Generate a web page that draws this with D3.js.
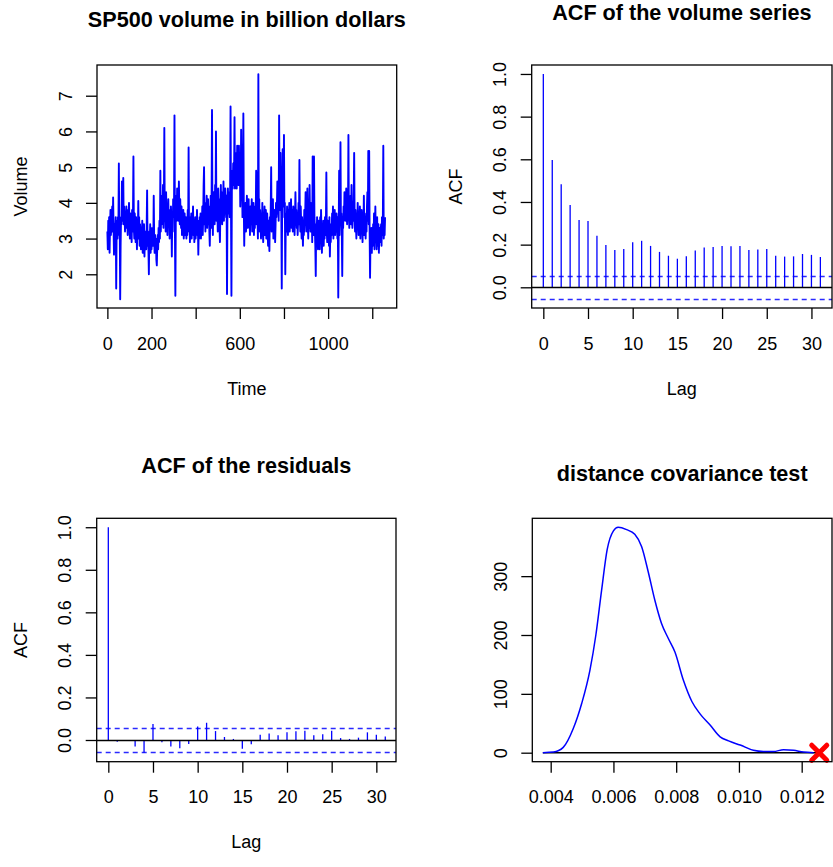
<!DOCTYPE html>
<html>
<head>
<meta charset="utf-8">
<script src="https://cdn.jsdelivr.net/npm/d3@7"></script>
<style>
    body { margin: 0; background: #ffffff; }
    text { font-family: "Liberation Sans", Arial, Helvetica, sans-serif; font-size: 18px; fill: #000000; }
    .title { font-size: 21.6px; font-weight: bold; }
</style>
</head>
<body>
<div id="d3plot"></div>
<script>
// Data
// ==================================================================
// SP500 daily volume (billion dollars), read every 2nd day off the picture
const volume = [
    3.2, 2.7, 3.5, 3.0, 3.6, 2.6, 3.3, 3.8, 3.1, 3.4,
    3.6, 3.9, 3.2, 4.15, 3.3, 2.55, 3.4, 3.1, 3.3, 3.6,
    1.6, 3.2, 3.5, 3.0, 3.6, 3.3, 5.1, 3.1, 3.4, 1.3,
    2.8, 3.6, 3.4, 4.6, 3.5, 3.8, 4.7, 3.4, 3.9, 3.6,
    3.2, 3.7, 3.4, 3.9, 3.3, 3.6, 3.1, 3.8, 3.5, 4.0,
    3.4, 3.0, 3.7, 3.3, 3.5, 2.9, 3.8, 3.2, 3.6, 5.3,
    3.3, 3.0, 3.7, 3.4, 2.9, 3.6, 3.2, 2.7, 3.5, 3.1,
    4.05, 3.0, 3.6, 2.8, 3.4, 3.2, 2.7, 3.3, 2.9, 3.5,
    2.6, 3.1, 2.8, 3.4, 2.5, 3.0, 2.9, 3.2, 2.7, 3.3,
    4.35, 2.8, 3.1, 2.7, 2.0, 3.2, 2.9, 3.4, 2.6, 3.3,
    2.7, 3.0, 2.9, 3.3, 2.8, 4.2, 3.0, 2.6, 3.1, 2.9,
    3.0, 2.4, 2.25, 2.8, 3.1, 2.7, 3.3, 2.9, 3.5, 3.0,
    4.9, 3.2, 3.7, 3.4, 4.2, 3.6, 4.5, 3.3, 3.9, 6.1,
    3.5, 4.0, 3.2, 4.3, 3.6, 3.9, 3.1, 3.7, 4.1, 3.4,
    3.8, 3.0, 3.6, 3.3, 3.9, 3.5, 2.5, 3.7, 3.2, 4.1,
    3.6, 3.9, 6.45, 3.3, 1.4, 3.6, 4.2, 3.5, 4.4, 3.7,
    4.0, 3.5, 4.6, 3.8, 3.4, 4.1, 3.6, 3.3, 3.9, 3.1,
    3.5, 3.2, 3.8, 3.0, 3.4, 3.7, 3.1, 3.3, 3.6, 3.0,
    3.4, 3.1, 3.8, 3.3, 5.55, 3.2, 3.6, 2.9, 3.5, 3.3,
    3.7, 3.0, 3.4, 3.2, 3.9, 3.1, 3.5, 2.9, 3.3, 3.6,
    3.0, 3.4, 3.2, 3.8, 3.1, 3.5, 2.55, 3.3, 3.0, 3.6,
    3.2, 3.7, 3.0, 3.5, 3.3, 3.9, 3.1, 3.6, 4.5, 5.0,
    3.4, 3.8, 3.2, 4.0, 3.5, 4.2, 3.3, 3.7, 4.1, 3.4,
    3.9, 3.2, 2.8, 3.6, 4.2, 3.3, 4.0, 6.6, 3.7, 3.1,
    4.3, 3.6, 4.0, 3.4, 4.5, 3.8, 6.0, 3.5, 4.2, 3.9,
    3.2, 4.4, 3.7, 4.1, 3.3, 2.9, 3.8, 4.5, 3.6, 4.0,
    3.4, 4.3, 3.8, 4.6, 3.5, 4.1, 3.7, 4.4, 3.9, 3.6,
    4.2, 1.45, 3.8, 4.4, 3.7, 4.3, 4.0, 3.6, 4.1, 6.7,
    3.9, 1.4, 4.4, 4.9, 4.4, 5.1, 4.5, 4.8, 6.4, 4.4,
    5.0, 4.6, 5.4, 4.4, 5.6, 4.8, 5.2, 4.5, 5.6, 4.7,
    5.3, 3.9, 4.5, 6.05, 4.2, 4.8, 3.6, 4.4, 6.5, 3.9,
    2.8, 3.7, 3.4, 4.0, 3.2, 3.6, 4.2, 3.3, 3.8, 3.5,
    4.1, 3.3, 3.7, 3.1, 3.9, 3.4, 3.6, 4.1, 3.2, 3.8,
    3.5, 4.0, 3.1, 3.7, 3.3, 3.9, 3.5, 4.9, 3.4, 3.8,
    3.6, 3.0, 7.6, 3.5, 4.1, 3.2, 3.8, 3.4, 3.0, 3.7,
    3.3, 4.0, 3.2, 2.9, 3.6, 3.4, 3.9, 3.1, 3.5, 3.8,
    3.0, 3.4, 3.7, 3.2, 2.8, 3.5, 3.1, 2.65, 3.6, 3.3,
    3.8, 5.0, 3.2, 3.6, 3.4, 4.1, 3.0, 3.5, 3.2, 3.8,
    2.9, 3.4, 4.0, 3.6, 3.9, 4.6, 3.7, 4.2, 3.5, 6.45,
    4.4, 3.8, 5.4, 4.0, 3.7, 1.6, 4.2, 5.5, 3.9, 4.5,
    5.9, 3.6, 4.0, 2.0, 3.3, 3.7, 3.2, 3.9, 3.5, 3.1,
    3.8, 3.4, 4.0, 3.2, 3.7, 3.5, 4.1, 3.3, 3.8, 3.6,
    3.2, 3.9, 3.4, 3.7, 3.1, 3.6, 4.3, 3.5, 3.8, 3.3,
    3.7, 3.1, 3.5, 4.0, 3.4, 5.2, 3.6, 3.2, 3.9, 3.4,
    3.0, 3.6, 3.3, 2.8, 3.5, 3.1, 3.8, 3.2, 3.6, 4.3,
    3.4, 3.9, 3.2, 4.4, 3.5, 3.0, 3.8, 3.3, 4.5, 3.6,
    3.2, 4.0, 3.4, 3.7, 2.9, 5.3, 3.5, 3.1, 5.3, 3.6,
    3.3, 2.8, 1.95, 3.4, 3.0, 3.6, 3.2, 2.7, 3.5, 3.0,
    3.3, 2.7, 3.6, 2.9, 3.8, 3.1, 2.6, 3.4, 3.0, 3.5,
    2.8, 3.3, 3.0, 3.6, 3.1, 3.4, 4.85, 3.2, 2.9, 3.5,
    3.0, 3.3, 2.8, 3.6, 2.5, 3.2, 2.9, 3.4, 3.1, 3.7,
    3.3, 3.9, 3.0, 3.6, 3.4, 3.8, 3.1, 3.5, 3.2, 3.7,
    3.4, 3.0, 3.6, 1.35, 3.3, 4.9, 3.1, 3.8, 5.7, 3.4,
    3.7, 3.2, 1.95, 3.6, 3.3, 3.9, 3.5, 4.3, 3.6, 4.1,
    3.5, 4.4, 3.8, 3.4, 4.0, 3.6, 5.9, 3.7, 3.3, 3.9,
    3.5, 4.2, 3.4, 4.5, 3.7, 3.3, 3.9, 3.5, 4.1, 5.4,
    3.6, 3.2, 3.8, 3.4, 3.0, 3.7, 3.3, 4.0, 3.5, 3.1,
    3.6, 3.3, 3.9, 3.0, 3.5, 3.2, 3.8, 3.4, 2.9, 3.6,
    3.3, 4.2, 3.1, 3.7, 3.4, 3.0, 3.6, 3.2, 3.9, 4.3,
    3.5, 5.45, 3.4, 5.45, 3.2, 1.9, 3.0, 2.7, 3.3, 2.6,
    3.1, 2.8, 3.4, 3.0, 3.7, 2.7, 3.2, 3.9, 2.9, 3.3,
    2.7, 3.6, 3.0, 2.8, 3.4, 2.6, 3.1, 3.3, 2.9, 3.2,
    3.4, 2.8, 3.6, 3.1, 3.5, 5.6, 3.0, 3.3, 3.1, 3.6
];
const volumeStep = 2;

const timeTicks = [0, 200, 400, 600, 800, 1000, 1200];
const timeTickLabels = ["0", "200", "", "600", "", "1000", ""];
const volumeTicks = [2, 3, 4, 5, 6, 7];

// ACF of the volume series and of the residuals
const lags = [0, 1, 2, 3, 4, 5, 6, 7, 8, 9, 10, 11, 12, 13, 14, 15,
    16, 17, 18, 19, 20, 21, 22, 23, 24, 25, 26, 27, 28, 29, 30, 31];
const acfVolume = [1.0, 0.597, 0.483, 0.386, 0.316, 0.311, 0.242, 0.198, 0.175, 0.18,
    0.211, 0.218, 0.194, 0.166, 0.148, 0.134, 0.145, 0.172, 0.186, 0.189,
    0.194, 0.192, 0.194, 0.175, 0.177, 0.18, 0.148, 0.144, 0.145, 0.156,
    0.152, 0.142];
const acfResid = [1.0, -0.008, -0.005, -0.031, -0.06, 0.075, -0.011, -0.031, -0.039, -0.019,
    0.063, 0.081, 0.042, 0.014, 0.005, -0.041, -0.02, 0.025, 0.031, 0.022,
    0.036, 0.041, 0.044, 0.022, 0.027, 0.044, 0.009, 0.005, 0.011, 0.036,
    0.025, 0.016];
const ciBound = 0.055;
const lagTicks = [0, 5, 10, 15, 20, 25, 30];
const acfTicks = [0, 0.2, 0.4, 0.6, 0.8, 1.0];

// Distance covariance test: bootstrap density and observed statistic
const densX = [0.00375, 0.00409, 0.0044, 0.00472, 0.00499, 0.00525, 0.00544, 0.00562, 0.0058,
    0.006, 0.00615, 0.00642, 0.00668, 0.0069, 0.00711, 0.00732, 0.00753, 0.00775,
    0.00796, 0.00823, 0.0085, 0.00876, 0.00908, 0.0094, 0.00967, 0.01004, 0.01046,
    0.01078, 0.0111, 0.01142, 0.01174, 0.01206, 0.01238];
const densY = [0, 1, 9, 41, 84, 140, 200, 275, 345, 377, 383, 379, 371, 350, 307, 259, 220,
    194, 171, 123, 87, 66, 47, 27, 20, 13, 4, 2, 2, 5, 4, 1, 0];
const testStat = 0.01256;
const dcovXTicks = [0.004, 0.006, 0.008, 0.010, 0.012];
const dcovYTicks = [0, 100, 200, 300];

// Layout
// ==================================================================
const width = 833, height = 867;

let svg = d3.select("#d3plot")
    .append("svg")
        .attr("width", width)
        .attr("height", height);

// Functions
// ==================================================================
function make_panel(x0, y0, w, h, xDomain, yDomain) {
    let g = svg.append("g").attr("transform", "translate(" + x0 + "," + y0 + ")");
    let x = d3.scaleLinear().domain(xDomain).range([0, w]);
    let y = d3.scaleLinear().domain(yDomain).range([h, 0]);
    return {g: g, x: x, y: y, w: w, h: h, x0: x0, y0: y0};
}

function draw_axes(p, xTicks, xFormat, yTicks, yFormat) {
    p.g.append("g")
        .attr("transform", "translate(0," + p.h + ")")
        .call(d3.axisBottom(p.x).tickValues(xTicks).tickSize(11).tickFormat(xFormat))
        .call(g => g.select(".domain").remove())
        .call(g => g.selectAll("line").attr("stroke-width", 1.3))
        .call(g => g.selectAll("text").attr("y", 35.3).attr("dy", "0.36em"));

    p.g.append("g")
        .call(d3.axisLeft(p.y).tickValues(yTicks).tickSize(11).tickFormat(yFormat))
        .call(g => g.select(".domain").remove())
        .call(g => g.selectAll("line").attr("stroke-width", 1.3))
        .call(g => g.selectAll("text")
            .attr("x", null)
            .attr("dy", "0.36em")
            .attr("text-anchor", "middle")
            .attr("transform", "translate(-31.7,0) rotate(-90)"));
}

function draw_box(p) {
    p.g.append("rect")
        .attr("width", p.w)
        .attr("height", p.h)
        .attr("fill", "none")
        .attr("stroke", "#000")
        .attr("stroke-width", 1.3);
}

function draw_labels(p, title, titleY, xlab, ylab) {
    svg.append("text")
        .attr("class", "title")
        .attr("x", p.x0 + p.w / 2)
        .attr("y", titleY)
        .attr("text-anchor", "middle")
        .text(title);
    if (xlab) {
        p.g.append("text")
            .attr("x", p.w / 2)
            .attr("y", p.h + 80.3)
            .attr("dy", "0.36em")
            .attr("text-anchor", "middle")
            .text(xlab);
    }
    if (ylab) {
        p.g.append("text")
            .attr("transform", "translate(-76.5," + (p.h / 2) + ") rotate(-90)")
            .attr("dy", "0.36em")
            .attr("text-anchor", "middle")
            .text(ylab);
    }
}

function draw_acf(p, values) {
    // snap the horizontal guides to pixel centres so they stay crisp
    const snap = v => Math.round(p.y(v) + p.y0) - p.y0 + 0.5;

    p.g.selectAll("line.ci")
        .data([ciBound, -ciBound])
        .enter()
        .append("line")
            .attr("class", "ci")
            .attr("x1", 0)
            .attr("x2", p.w)
            .attr("y1", d => snap(d))
            .attr("y2", d => snap(d))
            .attr("stroke", "#2a2aff")
            .attr("stroke-width", 1.6)
            .attr("stroke-dasharray", "5,4");

    p.g.selectAll("line.bar")
        .data(values)
        .enter()
        .append("line")
            .attr("class", "bar")
            .attr("x1", (d, i) => p.x(lags[i]))
            .attr("x2", (d, i) => p.x(lags[i]))
            .attr("y1", p.y(0))
            .attr("y2", d => p.y(d))
            .attr("stroke", "#0000ff")
            .attr("stroke-width", 1.3);

    p.g.append("line")
        .attr("x1", 0)
        .attr("x2", p.w)
        .attr("y1", snap(0))
        .attr("y2", snap(0))
        .attr("stroke", "#000")
        .attr("stroke-width", 1.5);
}

// Panel 1: volume series
// ==================================================================
let p1 = make_panel(97, 65, 299.7, 243, [-47, 1310.7], [1.056, 7.86]);
p1.g.append("path")
    .datum(volume)
    .attr("fill", "none")
    .attr("stroke", "#0000ff")
    .attr("stroke-width", 1.9)
    .attr("stroke-linejoin", "round")
    .attr("d", d3.line()
        .x((d, i) => p1.x(i * volumeStep))
        .y(d => p1.y(d)));
draw_axes(p1, timeTicks, (d, i) => timeTickLabels[i], volumeTicks, d3.format("d"));
draw_box(p1);
draw_labels(p1, "SP500 volume in billion dollars", 26.7, "Time", "Volume");

// Panel 2: ACF of volume
// ==================================================================
let p2 = make_panel(531.7, 65, 300.3, 243, [-1.3, 32.3], [-0.097, 1.042]);
draw_acf(p2, acfVolume);
draw_axes(p2, lagTicks, d3.format("d"), acfTicks, d3.format(".1f"));
draw_box(p2);
draw_labels(p2, "ACF of the volume series", 20, "Lag", "ACF");

// Panel 3: ACF of residuals
// ==================================================================
let p3 = make_panel(96.7, 518.3, 299.3, 243.4, [-1.3, 32.2], [-0.102, 1.042]);
draw_acf(p3, acfResid);
draw_axes(p3, lagTicks, d3.format("d"), acfTicks, d3.format(".1f"));
draw_box(p3);
draw_labels(p3, "ACF of the residuals", 473.3, "Lag", "ACF");

// Panel 4: distance covariance test
// ==================================================================
let p4 = make_panel(532.3, 518.3, 299.7, 243.4, [0.003414, 0.012966], [-15.3, 398.3]);
p4.g.append("line")
    .attr("x1", p4.x(densX[0]))
    .attr("x2", p4.x(testStat))
    .attr("y1", p4.y(0))
    .attr("y2", p4.y(0))
    .attr("stroke", "#000")
    .attr("stroke-width", 1.4);
p4.g.append("path")
    .datum(densX.map((d, i) => [d, densY[i]]))
    .attr("fill", "none")
    .attr("stroke", "#0000ff")
    .attr("stroke-width", 1.5)
    .attr("d", d3.line()
        .x(d => p4.x(d[0]))
        .y(d => p4.y(d[1]))
        .curve(d3.curveMonotoneX));
p4.g.append("path")
    .attr("d", d3.symbol().type(d3.symbolX).size(150)())
    .attr("transform", "translate(" + p4.x(testStat) + "," + p4.y(0) + ")")
    .attr("fill", "none")
    .attr("stroke", "#ff0000")
    .attr("stroke-width", 5)
    .attr("stroke-linecap", "round");
draw_axes(p4, dcovXTicks, d3.format(".3f"), dcovYTicks, d3.format("d"));
draw_box(p4);
draw_labels(p4, "distance covariance test", 480.5, null, null);
</script>
</body>
</html>
